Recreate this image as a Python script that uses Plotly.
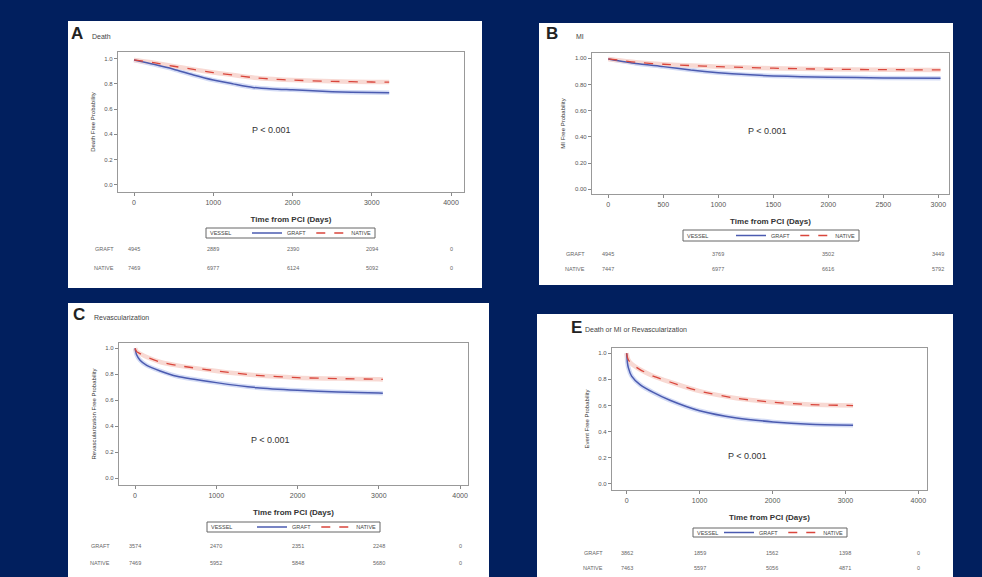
import plotly.graph_objects as go

W, H = 982, 577
BG = "#011f5e"
BLUE = "#4b5bb0"
BLUE_HALO = "#d3dbf5"
RED = "#d9463c"
RED_HALO = "#f8d9d3"

# ---------------- data ----------------
A_time = [0, 250, 500, 750, 1000, 1250, 1500, 1750, 2000, 2500, 3000, 3220]
A_graft = [0.99, 0.955, 0.916, 0.87, 0.83, 0.80, 0.772, 0.76, 0.753, 0.738, 0.731, 0.730]
A_native = [0.99, 0.968, 0.94, 0.915, 0.89, 0.87, 0.85, 0.838, 0.83, 0.82, 0.815, 0.814]

B_time = [0, 250, 500, 750, 1000, 1250, 1500, 1750, 2000, 2500, 3020]
B_graft = [0.995, 0.96, 0.936, 0.91, 0.89, 0.875, 0.865, 0.859, 0.855, 0.85, 0.847]
B_native = [0.995, 0.97, 0.954, 0.944, 0.936, 0.929, 0.924, 0.92, 0.916, 0.913, 0.911]

C_time = [0, 20, 62, 144, 309, 515, 1000, 1500, 2000, 2500, 3000, 3050]
C_graft = [1.0, 0.95, 0.908, 0.869, 0.826, 0.785, 0.736, 0.697, 0.677, 0.664, 0.656, 0.655]
C_native = [1.0, 0.975, 0.959, 0.933, 0.895, 0.869, 0.826, 0.792, 0.774, 0.767, 0.762, 0.761]

E_time = [0, 10, 23, 68, 183, 365, 594, 1000, 1507, 2009, 2511, 3105]
E_graft = [1.0, 0.93, 0.89, 0.825, 0.76, 0.70, 0.64, 0.56, 0.505, 0.475, 0.457, 0.45]
E_native = [1.0, 0.97, 0.95, 0.918, 0.875, 0.825, 0.78, 0.71, 0.655, 0.625, 0.607, 0.60]

A_risk_x = [0, 1000, 2000, 3000, 4000]
A_risk_graft = [4945, 2889, 2390, 2094, 0]
A_risk_native = [7469, 6977, 6124, 5092, 0]

B_risk_x = [0, 1000, 2000, 3000]
B_risk_graft = [4945, 3769, 3502, 3449]
B_risk_native = [7447, 6977, 6616, 5792]

C_risk_x = [0, 1000, 2000, 3000, 4000]
C_risk_graft = [3574, 2470, 2351, 2248, 0]
C_risk_native = [7469, 5952, 5848, 5680, 0]

E_risk_x = [0, 1000, 2000, 3000, 4000]
E_risk_graft = [3862, 1859, 1562, 1398, 0]
E_risk_native = [7463, 5597, 5056, 4871, 0]

x_ticks_4000 = [0, 1000, 2000, 3000, 4000]
x_ticks_3000 = [0, 500, 1000, 1500, 2000, 2500, 3000]
y_ticks = [0.0, 0.2, 0.4, 0.6, 0.8, 1.0]

panels = [
    dict(letter="A", title="Death", ytitle="Death Free Probability",
         t=A_time, g=A_graft, n=A_native, rx=A_risk_x, rg=A_risk_graft, rn=A_risk_native,
         xt=x_ticks_4000, yfmt=".1f",
         box=(68, 21, 482, 288), frame=(118, 52, 464, 192),
         xr=(-202, 4164), yr=(-0.058, 1.053), p=(1741, 0.433),
         leg=(206, 228, 375, 238), rows=(249, 268), lab_x=104, letter_xy=(69, 34), tdx=21),
    dict(letter="B", title="MI", ytitle="MI Free Probability",
         t=B_time, g=B_graft, n=B_native, rx=B_risk_x, rg=B_risk_graft, rn=B_risk_native,
         xt=x_ticks_3000, yfmt=".2f",
         box=(539, 23, 953, 285), frame=(592, 53, 949, 194),
         xr=(-148, 3097), yr=(-0.036, 1.04), p=(1443, 0.445),
         leg=(683, 230, 859, 241), rows=(254, 269), lab_x=575, letter_xy=(544, 34), tdx=30),
    dict(letter="C", title="Revascularization", ytitle="Revascularization Free Probability",
         t=C_time, g=C_graft, n=C_native, rx=C_risk_x, rg=C_risk_graft, rn=C_risk_native,
         xt=x_ticks_4000, yfmt=".1f",
         box=(68, 303, 489, 577), frame=(119, 343, 468, 485),
         xr=(-197, 4098), yr=(-0.052, 1.041), p=(1662, 0.295),
         leg=(207, 522, 380, 532), rows=(546, 563), lab_x=100, letter_xy=(71, 315), tdx=21),
    dict(letter="E", title="Death or MI or Revascularization", ytitle="Event Free Probability",
         t=E_time, g=E_graft, n=E_native, rx=E_risk_x, rg=E_risk_graft, rn=E_risk_native,
         xt=x_ticks_4000, yfmt=".1f",
         box=(537, 314, 953, 577), frame=(612, 348, 927, 490),
         xr=(-201, 4119), yr=(-0.046, 1.04), p=(1664, 0.215),
         leg=(693, 528, 847, 537), rows=(553, 568), lab_x=593, letter_xy=(569, 327), tdx=14),
]

def px_x(v):
    return v / W

def px_y(v):
    return 1 - v / H

FONT = "Liberation Sans"
fig = go.Figure()
shapes = []
annotations = []
layout = {}

for i, P in enumerate(panels):
    k = "" if i == 0 else str(i + 1)
    xa, ya = "x" + k, "y" + k
    leg = "legend" + k

    shapes.append(dict(type="rect", xref="paper", yref="paper",
                       x0=px_x(P["box"][0]), x1=px_x(P["box"][2]),
                       y0=px_y(P["box"][3]), y1=px_y(P["box"][1]),
                       fillcolor="white", line=dict(width=0), layer="below"))

    # halos (band look) then lines
    fig.add_trace(go.Scatter(x=P["t"], y=P["g"], mode="lines", xaxis=xa, yaxis=ya,
                             line=dict(color=BLUE_HALO, width=4.5, shape="spline", smoothing=0.6),
                             showlegend=False, hoverinfo="skip"))
    fig.add_trace(go.Scatter(x=P["t"], y=P["n"], mode="lines", xaxis=xa, yaxis=ya,
                             line=dict(color=RED_HALO, width=4.5, shape="spline", smoothing=0.6),
                             showlegend=False, hoverinfo="skip"))
    fig.add_trace(go.Scatter(x=P["t"], y=P["g"], mode="lines", name="GRAFT", xaxis=xa, yaxis=ya,
                             line=dict(color=BLUE, width=1.5, shape="spline", smoothing=0.6),
                             legend=leg))
    fig.add_trace(go.Scatter(x=P["t"], y=P["n"], mode="lines", name="NATIVE", xaxis=xa, yaxis=ya,
                             line=dict(color=RED, width=1.3, dash="dash", shape="spline", smoothing=0.6),
                             legend=leg))

    fx0, fy0, fx1, fy1 = P["frame"]
    layout["xaxis" + k] = dict(
        domain=[px_x(fx0), px_x(fx1)], range=list(P["xr"]), anchor=ya,
        tickvals=P["xt"], ticks="outside", ticklen=3, tickcolor="#888",
        showline=True, mirror=True, linecolor="#999", linewidth=1.2,
        showgrid=False, zeroline=False,
        tickfont=dict(size=7, color="#555", family=FONT),
        title=dict(text="<b>Time from PCI (Days)</b>", standoff=11,
                   font=dict(size=8, color="#333", family=FONT)))
    layout["yaxis" + k] = dict(
        domain=[px_y(fy1), px_y(fy0)], range=list(P["yr"]), anchor=xa,
        tickvals=y_ticks, tickformat=P["yfmt"], ticks="outside", ticklen=3, tickcolor="#888",
        showline=True, mirror=True, linecolor="#999", linewidth=1.2,
        showgrid=False, zeroline=False,
        tickfont=dict(size=6, color="#555", family=FONT),
        title=dict(text=P["ytitle"], standoff=8,
                   font=dict(size=6, color="#333", family=FONT)))

    # legend box: frame shape + "VESSEL" label + plotly legend inside
    bx0, by0, bx1, by1 = P["leg"]
    shapes.append(dict(type="rect", xref="paper", yref="paper",
                       x0=px_x(bx0), x1=px_x(bx1), y0=px_y(by1), y1=px_y(by0),
                       fillcolor="white", line=dict(color="#666", width=1), layer="below"))
    annotations.append(dict(text="VESSEL", x=px_x(bx0 + 2), y=px_y((by0 + by1) / 2),
                            xref="paper", yref="paper", xanchor="left", yanchor="middle",
                            showarrow=False, font=dict(size=5.5, color="#444", family=FONT)))
    layout[leg] = dict(
        orientation="h", x=px_x(bx1 + 2), y=px_y((by0 + by1) / 2),
        xanchor="right", yanchor="middle", xref="paper", yref="paper",
        bgcolor="rgba(0,0,0,0)", borderwidth=0,
        font=dict(size=5.5, color="#444", family=FONT),
        itemwidth=30, tracegroupgap=0)

    # panel letter and title
    lx, ly = P["letter_xy"]
    annotations.append(dict(text="<b>" + P["letter"] + "</b>", x=px_x(lx), y=px_y(ly),
                            xref="paper", yref="paper", xanchor="left", yanchor="middle",
                            showarrow=False, font=dict(size=17, color="#222", family=FONT)))
    annotations.append(dict(text=P["title"], x=px_x(lx + P["tdx"]), y=px_y(ly + 2),
                            xref="paper", yref="paper", xanchor="left", yanchor="middle",
                            showarrow=False, font=dict(size=7, color="#444", family=FONT)))
    # p value
    annotations.append(dict(text="P < 0.001", x=P["p"][0], y=P["p"][1], xref=xa, yref=ya,
                            showarrow=False, font=dict(size=9, color="#333", family=FONT)))
    # risk table
    for row_y, name, vals in [(P["rows"][0], "GRAFT", P["rg"]), (P["rows"][1], "NATIVE", P["rn"])]:
        annotations.append(dict(text=name, x=px_x(P["lab_x"]), y=px_y(row_y), xref="paper", yref="paper",
                                xanchor="center", yanchor="middle", showarrow=False,
                                font=dict(size=5.5, color="#666", family=FONT)))
        for xv, v in zip(P["rx"], vals):
            annotations.append(dict(text=str(v), x=xv, y=px_y(row_y), xref=xa, yref="paper",
                                    xanchor="center", yanchor="middle", showarrow=False,
                                    font=dict(size=5.5, color="#666", family=FONT)))

fig.update_layout(
    width=W, height=H, margin=dict(l=0, r=0, t=0, b=0),
    paper_bgcolor=BG, plot_bgcolor="white",
    shapes=shapes, annotations=annotations, **layout)

fig.write_html("out.html", config={"displayModeBar": False},
               post_script="document.body.style.margin='0';document.body.style.padding='0';"
                           "document.body.style.overflow='hidden';")
